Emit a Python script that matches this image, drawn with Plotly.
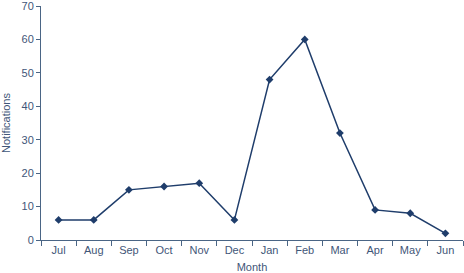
import plotly.graph_objects as go

months = ["Jul", "Aug", "Sep", "Oct", "Nov", "Dec", "Jan", "Feb", "Mar", "Apr", "May", "Jun"]
notifications = [6, 6, 15, 16, 17, 6, 48, 60, 32, 9, 8, 2]
y_ticks = [0, 10, 20, 30, 40, 50, 60, 70]

axis_color = "#4a6585"
text_color = "#3f5678"
line_color = "#1f3d6b"

fig = go.Figure(go.Scatter(
    x=months, y=notifications, mode="lines+markers",
    line=dict(color=line_color, width=1.5),
    marker=dict(symbol="diamond", size=6, color=line_color),
    cliponaxis=False, hoverinfo="skip",
))

fig.update_layout(
    width=464, height=273,
    margin=dict(l=41, r=1, t=6, b=33),
    paper_bgcolor="white", plot_bgcolor="white",
    font=dict(family="Liberation Sans, Arial, sans-serif", size=11, color=text_color),
    showlegend=False,
)
fig.update_xaxes(
    type="category", tickson="boundaries", ticks="outside", ticklen=5,
    tickcolor=axis_color, showline=True, linecolor=axis_color, linewidth=1,
    showgrid=False, zeroline=False, range=[-0.5, 11.5], automargin=False,
    ticklabeloverflow="allow",
    title=dict(text="Month", font=dict(size=11)),
)
fig.update_yaxes(
    range=[0, 70], tickvals=y_ticks, ticks="outside", ticklen=4,
    tickcolor=axis_color, showline=True, linecolor=axis_color, linewidth=1,
    showgrid=False, zeroline=False, automargin=False,
    ticklabeloverflow="allow",
    title=dict(text="Notifications", font=dict(size=11)),
)

fig.write_html(
    "out.html",
    config={"displayModeBar": False, "staticPlot": True},
    post_script="document.body.style.margin='0';document.body.style.overflow='hidden';",
)
